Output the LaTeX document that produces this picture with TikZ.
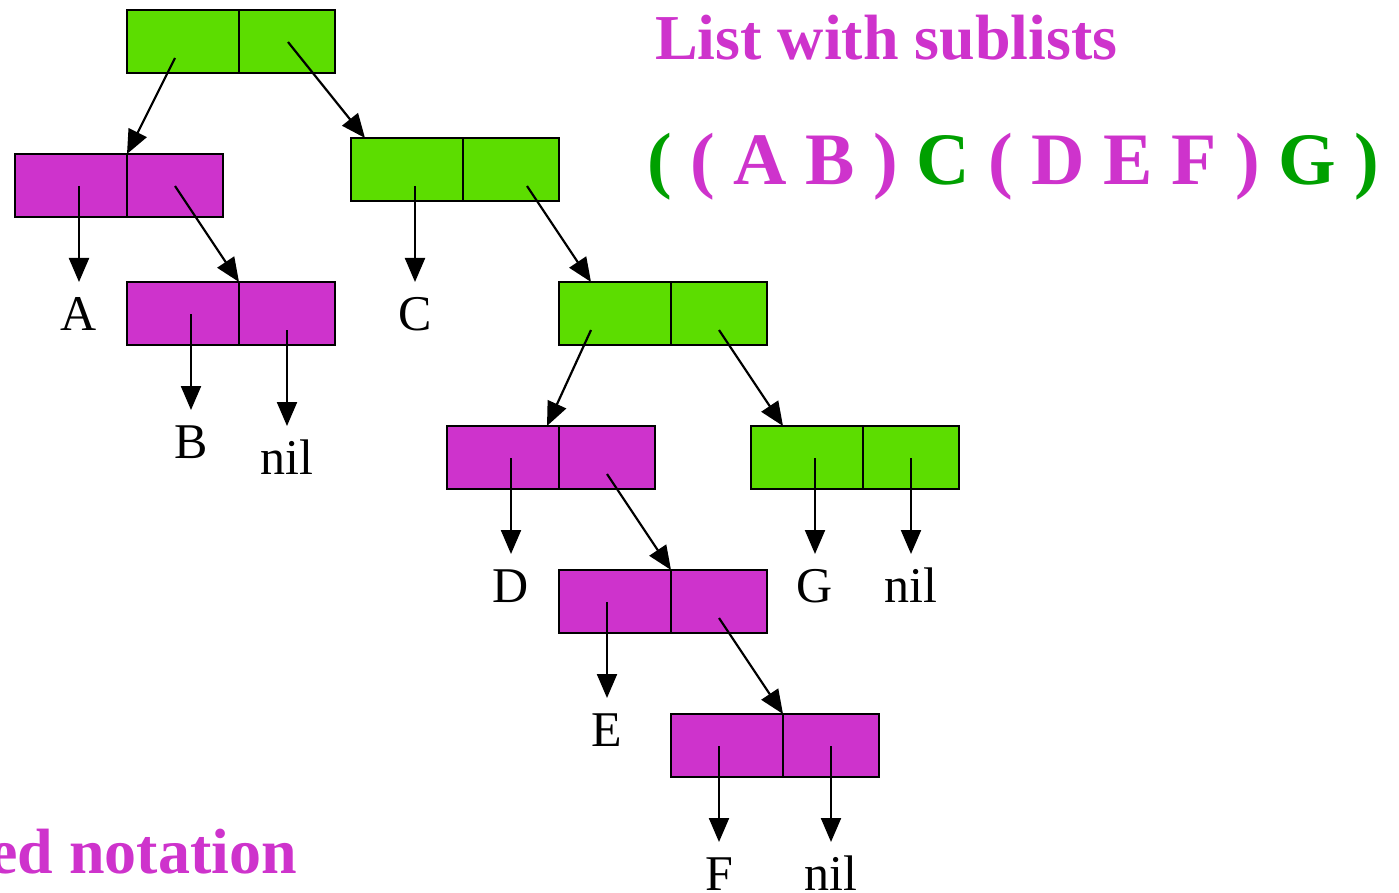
\documentclass[tikz,border=0pt]{standalone}
\usepackage{fontspec}
\setmainfont{Liberation Serif}
\usetikzlibrary{arrows.meta}
\definecolor{consgreen}{HTML}{5CDD00}
\definecolor{consmag}{HTML}{CE33CC}
\definecolor{txtmag}{HTML}{CE33CC}
\definecolor{txtgreen}{HTML}{00A000}

% one cons cell: name, x, y (top-left corner), fill colour
\newcommand\conscell[4]{%
  \node[lcell,fill=#4] (#1l) at (#2,#3) {};
  \node[rcell,fill=#4] (#1r) at (#1l.north east) {};
}

\begin{document}
\begin{tikzpicture}[x=1pt,y=-1pt,
  lcell/.style={draw=black,line width=2.4pt,inner sep=0pt,outer sep=0pt,anchor=north west,
    minimum width=112pt,minimum height=63pt},
  rcell/.style={lcell,minimum width=96pt},
  ptr/.style={line width=2.2pt,-{Triangle[length=24pt,width=20pt]}},
  lbl/.style={anchor=base,inner sep=0pt,outer sep=0pt,text height=36pt,text depth=0pt,
    font=\fontsize{50}{56}\selectfont},
  heading/.style={inner sep=0pt,font=\fontsize{64}{70}\selectfont\bfseries,text=txtmag}]
\useasboundingbox (0,0) rectangle (1399,893);

% cons cells
\conscell{b1}{127}{10}{consgreen}
\conscell{b2}{15}{154}{consmag}
\conscell{b3}{351}{138}{consgreen}
\conscell{b4}{127}{282}{consmag}
\conscell{b5}{559}{282}{consgreen}
\conscell{b6}{447}{426}{consmag}
\conscell{b7}{751}{426}{consgreen}
\conscell{b8}{559}{570}{consmag}
\conscell{b9}{671}{714}{consmag}

% pointer origins inside the cells
\coordinate (s1a) at (175,58);
\coordinate (s1d) at (288,42);
\coordinate (s2a) at (79,186);
\coordinate (s2d) at (175,186);
\coordinate (s3a) at (415,186);
\coordinate (s3d) at (527,186);
\coordinate (s4a) at (191,314);
\coordinate (s4d) at (287,330);
\coordinate (s5a) at (591,330);
\coordinate (s5d) at (719,330);
\coordinate (s6a) at (511,458);
\coordinate (s6d) at (607,474);
\coordinate (s7a) at (815,458);
\coordinate (s7d) at (911,458);
\coordinate (s8a) at (607,602);
\coordinate (s8d) at (719,618);
\coordinate (s9a) at (719,746);
\coordinate (s9d) at (831,746);

% atoms
\node[lbl] (A) at (79,330) {A};
\node[lbl] (C) at (415,330) {C};
\node[lbl] (B) at (191,458) {B};
\node[lbl] (nil4) at (287,474) {nil};
\node[lbl] (D) at (511,602) {D};
\node[lbl] (G) at (815,602) {G};
\node[lbl] (nil7) at (911,602) {nil};
\node[lbl] (E) at (607,746) {E};
\node[lbl] (F) at (719,890) {F};
\node[lbl] (nil9) at (831,890) {nil};

% pointers
\draw[ptr] (s1a) -- (b2l.north east);
\draw[ptr] (s1d) -- ([xshift=14pt]b3l.north west);
\draw[ptr] (s2a) -- ([yshift=12pt]A.north);
\draw[ptr] (s2d) -- (b4l.north east);
\draw[ptr] (s3a) -- ([yshift=12pt]C.north);
\draw[ptr] (s3d) -- ([xshift=32pt]b5l.north west);
\draw[ptr] (s4a) -- ([yshift=12pt]B.north);
\draw[ptr] (s4d) -- ([yshift=12pt]nil4.north);
\draw[ptr] (s5a) -- ([xshift=100pt]b6l.north west);
\draw[ptr] (s5d) -- ([xshift=32pt]b7l.north west);
\draw[ptr] (s6a) -- ([yshift=12pt]D.north);
\draw[ptr] (s6d) -- (b8l.north east);
\draw[ptr] (s7a) -- ([yshift=12pt]G.north);
\draw[ptr] (s7d) -- ([yshift=12pt]nil7.north);
\draw[ptr] (s8a) -- ([yshift=12pt]E.north);
\draw[ptr] (s8d) -- (b9l.north east);
\draw[ptr] (s9a) -- ([yshift=12pt]F.north);
\draw[ptr] (s9d) -- ([yshift=12pt]nil9.north);

% headings
\node[heading,anchor=base west] (title) at (655,60) {List with sublists};
\node[heading,anchor=base west,font=\fontsize{74}{80}\selectfont\bfseries] (expr) at (647,185)
  {\textcolor{txtgreen}{(} ( A B ) \textcolor{txtgreen}{C} ( D E F ) \textcolor{txtgreen}{G} \textcolor{txtgreen}{)}};
\node[heading,anchor=base east] (note) at (297,873) {ed notation};
\end{tikzpicture}
\end{document}
